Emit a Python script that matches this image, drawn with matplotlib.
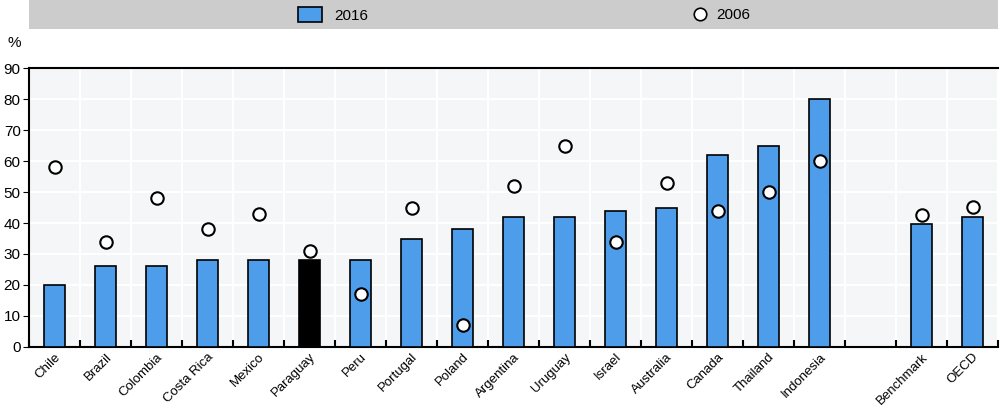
import numpy as np
import matplotlib
matplotlib.use("Agg")
import matplotlib.pyplot as plt
from matplotlib.patches import Rectangle
from matplotlib.lines import Line2D

plt.rcParams['font.family'] = ['Liberation Sans', 'DejaVu Sans']

countries = ['Chile', 'Brazil', 'Colombia', 'Costa Rica', 'Mexico', 'Paraguay', 'Peru',
             'Portugal', 'Poland', 'Argentina', 'Uruguay', 'Israel', 'Australia', 'Canada',
             'Thailand', 'Indonesia', '', 'Benchmark', 'OECD']
v2016 = [20, 26, 26, 28, 28, 28, 28, 35, 38, 42, 42, 44, 45, 62, 65, 80, np.nan, 39.8, 41.8]
v2006 = [58, 34, 48, 38, 43, 31, 17, 45, 7, 52, 65, 34, 53, 44, 50, 60, np.nan, 42.6, 45.3]

blue = '#4E9DEB'
x = np.arange(len(countries))
colors = ['black' if c == 'Paraguay' else blue for c in countries]

fig = plt.figure(figsize=(10, 4.09), dpi=100)
ax = fig.add_axes([0.029, 0.152, 0.969, 0.681])
ax.set_facecolor('#F5F6F8')

ax.bar(x, v2016, width=0.4, color=colors, edgecolor='black', linewidth=1.2, zorder=3)
ax.scatter(x, v2006, s=80, facecolor='white', edgecolor='black', linewidth=1.5, zorder=4)

ax.set_xlim(-0.5, len(countries) - 0.5)
ax.set_ylim(0, 90)
ax.set_yticks(np.arange(0, 91, 10))
ax.set_xticks(x)
ax.set_xticklabels(countries, rotation=45, ha='right', rotation_mode='anchor', fontsize=9.5)
ax.tick_params(axis='x', length=0, pad=3)
ax.tick_params(axis='y', length=4, labelsize=11, pad=2)
ax.set_xticks(np.arange(-0.5, len(countries), 1), minor=True)
ax.tick_params(axis='x', which='minor', direction='in', length=5, width=1.5)
ax.grid(axis='y', color='white', linewidth=1.5, zorder=0)
ax.grid(axis='x', which='minor', color='white', linewidth=1.5, zorder=0)
ax.set_axisbelow(True)

for s in ['top', 'left', 'bottom']:
    ax.spines[s].set_linewidth(1.5)
ax.spines['right'].set_visible(False)

fig.text(0.008, 0.885, '%', fontsize=11)

# legend band
fig.patches.append(Rectangle((0.029, 0.929), 0.969, 0.071, transform=fig.transFigure,
                             facecolor='#CCCCCC', edgecolor='none'))
bar_h = Rectangle((0, 0), 1, 1, facecolor=blue, edgecolor='black', linewidth=1.2)
dot_h = Line2D([], [], marker='o', linestyle='none', markersize=9,
               markerfacecolor='white', markeredgecolor='black', markeredgewidth=1.2)
fig.legend([bar_h], ['2016'], loc='center left', bbox_to_anchor=(0.298, 0.963),
           frameon=False, fontsize=11, handlelength=1.6, handleheight=1.1,
           handletextpad=0.8, borderaxespad=0, borderpad=0)
fig.legend([dot_h], ['2006'], loc='center left', bbox_to_anchor=(0.693, 0.963),
           frameon=False, fontsize=11, handlelength=0.9, handletextpad=0.6,
           borderaxespad=0, borderpad=0)

fig.savefig('out.png', dpi=100)
